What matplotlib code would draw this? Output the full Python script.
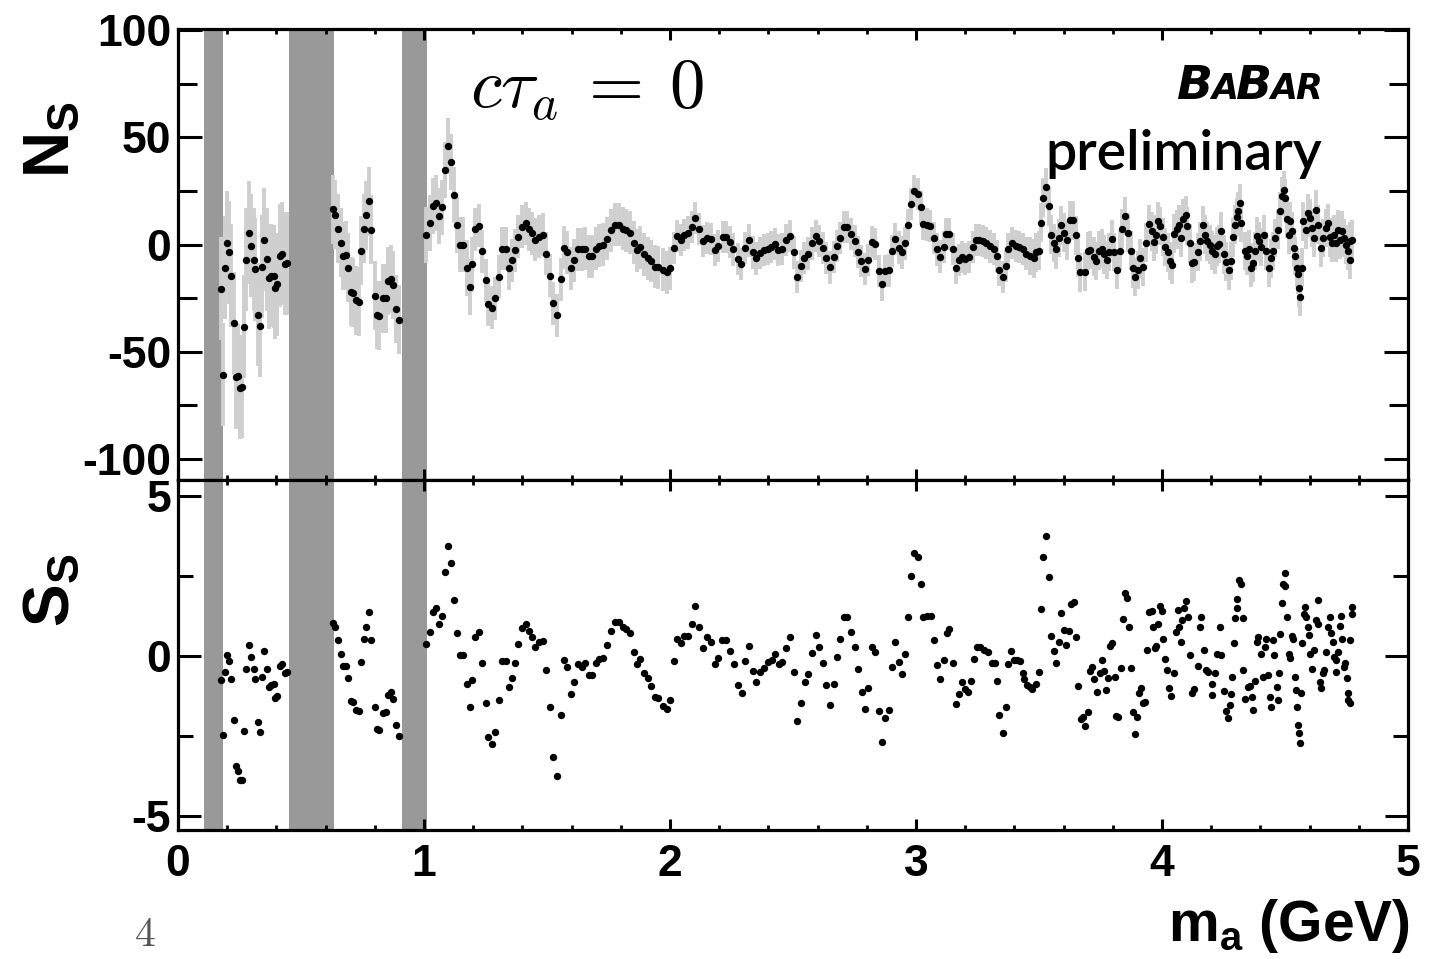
import matplotlib
matplotlib.use('Agg')
import matplotlib.pyplot as plt
import numpy as np
from matplotlib.ticker import MultipleLocator, FuncFormatter

# ---------------- data ----------------
# vetoed mass windows (GeV)
veto_lo = [0.105, 0.452, 0.912]
veto_hi = [0.182, 0.634, 1.012]

# masses common to both panels below 2.2 GeV
mass_lo = [0.176,0.184,0.193,0.200,0.208,0.216,0.227,0.234,0.244,0.252,0.260,0.269,0.278,0.288,0.298,0.307,0.314,0.324,0.333,0.343,0.351,0.360,0.369,0.380,0.389,0.394,0.403,0.415,0.424,0.433,0.443,
           0.629,0.640,0.651,0.662,0.670,0.681,0.693,0.702,0.713,0.724,0.735,0.745,0.755,0.765,0.776,0.786,0.799,0.808,0.819,0.833,0.844,0.853,0.864,0.876,0.887,0.898,
           1.010,1.024,1.037,1.048,1.060,1.073,1.085,1.098,1.109,1.121,1.135,1.146,1.159,1.173,1.185,1.197,1.208,1.222,1.237,1.250,1.262,1.275,1.289,1.303,1.317,1.333,1.344,1.357,1.371,1.384,1.398,1.414,1.428,1.441,1.452,1.466,1.482,1.495,1.512,1.525,1.540,1.555,1.569,1.583,1.598,1.610,1.625,1.642,1.655,1.669,1.682,1.699,1.712,1.728,1.745,1.761,1.776,1.791,1.807,1.823,1.837,1.853,1.867,1.878,1.894,1.909,1.921,1.939,1.953,1.970,1.986,1.999,2.016,2.029,2.043,2.056,2.073,2.089,2.102,2.119,2.135,2.151,2.167,2.184,2.197]

ns_lo = [-20.7,-60.7,-10.8,0.8,-3.7,-14.6,-36.8,-61.9,-61.1,-66.9,-66.3,-38.4,-7.0,5.6,-0.5,-7.1,-11.5,-32.7,-37.8,-10.4,2.3,-6.8,-15.5,-14.6,-14.9,-20.1,-18.6,-5.3,-4.2,-9.0,-8.7,
         16.4,13.9,7.4,0.8,-5.3,-5.0,-10.8,-22.0,-22.4,-26.0,-26.6,-2.8,7.4,13.6,20.1,7.0,-23.8,-32.8,-33.1,-25.1,-25.1,-17.0,-16.1,-18.9,-30.0,-35.1,
         4.6,9.9,18.0,19.3,13.2,17.3,34.8,45.8,38.4,23.2,9.0,0.0,0.0,-11.1,-19.7,-9.3,7.1,8.7,-3.1,-16.6,-27.9,-29.4,-25.1,-15.0,-1.9,-1.9,-11.1,-7.3,-2.6,3.6,8.4,9.9,7.1,5.3,2.3,3.7,4.5,-4.3,-14.6,-27.4,-33.0,-16.3,-1.5,-3.6,-11.1,-7.4,-2.3,-2.2,-2.0,-5.4,-5.4,-2.0,-0.6,0.0,2.8,6.7,9.3,9.3,7.4,6.7,5.6,0.8,-2.6,-1.2,-4.5,-6.5,-7.7,-10.4,-10.7,-11.8,-13.0,-11.1,-1.5,4.0,2.3,4.6,5.6,8.2,12.4,7.4,1.7,3.1,2.5,-2.6,-0.8]

ss_lo = [-0.76,-2.48,-0.5,0.04,-0.17,-0.74,-2.0,-3.45,-3.6,-3.9,-3.9,-2.35,-0.42,0.35,-0.03,-0.42,-0.73,-2.08,-2.38,-0.67,0.16,-0.42,-0.97,-0.92,-0.89,-1.31,-1.26,-0.32,-0.26,-0.55,-0.52,
         1.03,0.91,0.49,0.07,-0.32,-0.31,-0.71,-1.42,-1.46,-1.7,-1.72,-0.18,0.54,0.91,1.38,0.49,-1.6,-2.3,-2.33,-1.8,-1.75,-1.24,-1.13,-1.36,-2.15,-2.51,
         0.36,0.76,1.38,1.49,1.01,1.25,2.61,3.45,2.89,1.74,0.7,0.02,0.02,-0.89,-1.6,-0.76,0.59,0.73,-0.24,-1.47,-2.53,-2.76,-2.38,-1.39,-0.17,-0.17,-0.97,-0.68,-0.22,0.36,0.88,0.99,0.78,0.59,0.28,0.44,0.45,-0.45,-1.6,-3.18,-3.76,-1.84,-0.14,-0.36,-1.18,-0.81,-0.26,-0.34,-0.24,-0.59,-0.59,-0.22,-0.09,-0.08,0.35,0.77,1.06,1.06,0.91,0.84,0.72,0.13,-0.26,-0.09,-0.53,-0.68,-0.95,-1.3,-1.31,-1.57,-1.67,-1.37,-0.15,0.51,0.39,0.63,0.63,1.01,1.55,0.91,0.24,0.59,0.44,-0.26,-0.08]

# N_S above 2.2 GeV
mass_top_hi = [2.215,2.229,2.242,2.258,2.275,2.290,2.305,2.321,2.336,2.351,2.364,2.381,2.397,2.411,2.427,2.440,2.457,2.470,2.487,2.503,2.517,2.533,2.546,2.563,2.576,2.593,2.606,2.623,2.636,2.651,2.666,2.680,2.693,2.707,2.720,2.737,2.750,2.764,2.777,2.792,2.806,2.821,2.835,2.848,2.862,2.875,2.890,2.901,2.915,2.930,2.943,2.957,2.968,2.981,2.992,3.008,3.021,3.030,3.044,3.057,3.074,3.085,3.098,3.112,3.123,3.136,3.150,3.161,3.174,3.188,3.201,3.215,3.231,3.245,3.258,3.272,3.286,3.302,3.318,3.329,3.339,
               3.353,3.366,3.376,3.392,3.405,3.420,3.435,3.449,3.462,3.479,3.488,3.498,3.508,3.518,3.530,3.540,3.549,3.560,3.571,3.582,3.591,3.603,3.614,3.628,3.640,3.651,3.660,3.668,3.685,3.698,3.709,3.725,3.733,3.743,3.755,3.766,3.777,3.785,3.796,3.804,3.817,3.831,3.839,3.850,3.863,3.874,3.882,3.890,3.901,3.912,3.923,3.934,3.949,3.958,3.966,3.975,3.985,3.993,4.004,4.012,4.023,4.031,4.040,4.050,4.059,4.069,4.078,4.086,4.096,4.102,4.113,4.121,4.132,4.145,
               4.154,4.165,4.173,4.184,4.195,4.205,4.214,4.222,4.233,4.241,4.252,4.260,4.271,4.282,4.290,4.295,4.303,4.309,4.317,4.322,4.336,4.347,4.355,4.363,4.371,4.380,4.388,4.396,4.404,4.415,4.423,4.434,4.442,4.453,4.461,4.472,4.480,4.488,4.497,4.502,4.507,4.516,4.521,4.529,4.535,4.540,4.548,4.554,4.556,4.562,4.570,4.575,4.584,4.592,4.600,4.611,4.619,4.627,4.635,4.646,4.654,4.665,4.673,4.682,4.690,4.698,4.706,4.714,4.722,4.731,4.739,4.747,4.755,4.763,4.766,4.774]
ns_hi = [3.6,3.6,1.2,-2.3,-6.8,-9.1,-1.5,1.9,-3.7,-6.5,-3.9,-2.6,-1.9,-1.1,0.3,-2.6,-2.2,2.0,4.0,-3.7,-15.0,-10.1,-6.2,-4.2,0.5,4.0,1.7,-1.5,-6.2,-10.7,-5.7,-0.8,3.1,8.2,8.2,5.1,1.7,-3.4,-7.7,-11.6,-7.4,1.2,0.3,-12.2,-18.6,-12.4,-12.1,-3.1,2.5,-1.4,-3.7,0.5,9.0,18.9,24.8,23.5,17.3,9.6,9.3,8.7,3.1,-2.3,-5.6,-1.2,4.8,5.1,-1.9,-11.0,-7.3,-5.7,-6.8,-5.9,-1.1,2.0,2.2,1.7,0.9,-0.9,-1.9,-5.3,-11.9,
         -15.2,-10.2,-1.9,0.9,-0.6,-1.2,-2.2,-4.2,-5.3,-6.5,-3.7,-2.9,10.2,21.8,26.6,17.8,4.6,0.8,-2.2,3.1,9.0,5.6,1.9,11.3,11.3,4.3,-6.2,-13.0,-12.7,-3.1,-2.6,-5.7,-7.7,-2.8,-1.9,-4.6,-7.3,-3.4,2.5,-3.4,-11.9,-2.8,7.4,13.3,5.6,-2.8,-11.1,-15.2,-11.9,-6.5,-10.5,0.9,9.4,6.2,1.2,4.6,10.8,8.7,3.6,-1.1,-3.7,-7.7,-9.6,5.1,7.1,9.3,3.1,12.1,13.6,8.7,0.5,-8.8,-8.1,-3.4,
         1.5,9.0,4.6,1.5,0.0,-2.8,-4.6,-0.8,0.3,6.2,-4.6,-8.0,-12.1,-7.7,3.4,9.3,12.7,15.5,19.3,10.1,-3.1,-5.4,-2.0,-10.8,-8.5,-3.1,3.9,1.5,-1.2,4.6,-3.1,-10.8,-6.5,-3.1,3.1,7.0,15.5,22.4,25.5,21.7,12.1,4.6,10.8,6.2,-1.5,-5.4,-10.8,-13.9,-20.1,-24.5,-10.8,10.8,7.0,14.7,12.4,7.7,3.1,16.3,9.3,-1.5,3.1,7.7,10.1,3.4,0.8,4.6,0.8,7.0,2.3,6.5,3.1,0.0,-3.1,-7.0,1.5,2.3]

# S_S above 2.2 GeV
mass_bot_hi = [2.212,2.229,2.245,2.260,2.276,2.291,2.306,2.321,2.336,2.351,2.367,2.381,2.397,2.413,2.428,2.443,2.457,2.473,2.487,2.503,2.518,2.533,2.548,2.563,2.578,2.593,2.606,2.621,2.636,2.650,2.666,2.680,2.693,2.707,2.720,2.737,2.750,2.764,2.779,2.792,2.806,2.821,2.835,2.848,2.862,2.875,2.889,2.901,2.915,2.930,2.943,2.957,2.968,2.981,2.993,3.008,3.021,3.030,3.044,3.060,3.074,3.087,3.099,3.112,3.126,3.136,3.150,3.162,3.174,3.186,3.199,3.212,3.223,3.237,3.248,3.261,3.277,3.294,3.307,3.321,3.329,3.339,
               3.353,3.365,3.376,3.386,3.397,3.411,3.422,3.433,3.441,3.451,3.462,3.473,3.487,3.498,3.508,3.518,3.530,3.540,3.549,3.560,3.571,3.582,3.591,3.603,3.611,3.622,3.630,3.641,3.651,3.660,3.671,3.679,3.688,3.698,3.709,3.717,3.725,3.736,3.746,3.755,3.763,3.771,3.779,3.790,3.798,3.807,3.815,3.823,3.834,3.842,3.850,3.858,3.866,3.874,3.882,3.890,3.899,3.907,3.915,3.923,3.931,3.939,3.947,3.958,3.963,3.972,3.977,3.985,3.991,3.999,4.004,4.012,4.020,4.028,4.037,4.048,4.056,4.064,4.069,4.078,4.083,4.091,4.099,4.104,4.113,4.121,4.132,4.148,4.154,4.157,
               4.170,4.180,4.189,4.203,4.203,4.216,4.224,4.234,4.241,4.252,4.260,4.268,4.276,4.282,4.284,4.293,4.295,4.303,4.306,4.314,4.320,4.328,4.331,4.339,4.350,4.358,4.366,4.369,4.377,4.385,4.390,4.401,4.410,4.418,4.424,4.431,4.438,4.442,4.453,4.456,4.467,4.472,4.475,4.480,4.486,4.491,4.499,4.502,4.510,4.516,4.521,4.527,4.532,4.540,4.546,4.548,4.554,4.556,4.559,4.565,4.570,4.576,4.581,4.584,4.592,4.597,4.603,4.611,4.616,4.624,4.633,4.635,4.641,4.646,4.654,4.660,4.668,4.676,4.682,4.687,4.695,4.701,4.706,4.709,4.714,4.722,4.728,4.733,4.739,4.744,4.750,4.755,4.758,4.763,4.766,4.771,4.774]
ss_hi = [0.49,0.49,0.16,-0.26,-0.91,-1.16,-0.16,0.3,-0.49,-0.82,-0.51,-0.38,-0.2,-0.14,0.06,-0.27,-0.2,0.25,0.59,-0.5,-2.04,-1.49,-0.83,-0.56,0.09,0.64,0.26,-0.21,-0.91,-1.53,-0.87,-0.05,0.51,1.2,1.22,0.73,0.28,-0.41,-1.13,-1.67,-1.0,0.28,0.13,-1.73,-2.69,-1.94,-1.71,-0.36,0.43,-0.19,-0.58,0.07,1.21,2.51,3.22,3.08,2.26,1.22,1.25,1.25,0.49,-0.28,-0.73,-0.13,0.72,0.84,-0.24,-1.52,-1.2,-0.82,-1.04,-1.13,-0.79,-0.1,0.28,0.28,0.18,0.13,-0.21,-0.24,-0.78,-1.84,
         -2.41,-1.6,-0.26,0.15,-0.14,-0.14,-0.16,-0.55,-0.74,-0.92,-0.97,-1.04,-0.87,-0.51,1.45,3.1,3.74,2.45,0.62,0.15,-0.24,0.44,1.35,0.82,0.33,0.78,1.61,1.69,0.59,-0.93,-1.99,-1.93,-2.2,-1.77,-0.49,-0.34,-0.74,-1.13,-0.55,-0.14,-0.48,-1.07,-0.71,0.3,0.39,-0.66,-1.89,-1.91,-0.39,1.15,1.95,1.82,0.89,-0.38,-1.75,-2.45,-1.93,-1.16,-1.0,-1.49,-1.44,0.18,1.38,1.39,0.89,0.23,0.3,1.01,1.55,1.4,0.52,-0.09,-0.45,-1.01,-1.26,-0.55,0.74,1.43,0.91,0.44,1.12,1.51,1.72,1.22,0.04,-1.16,-1.05,-0.32,0.89,1.2,
         0.18,-0.45,-0.5,-0.87,-1.24,-0.55,0.05,0.89,0.02,-1.09,-1.72,-1.96,-1.54,-1.2,-0.66,0.41,1.17,1.48,1.77,2.37,2.26,1.17,-0.43,-1.35,-0.97,-0.95,-1.28,-1.69,-0.78,0.44,0.59,0.07,-0.66,0.28,0.54,-0.6,-1.28,-1.61,0.49,0.02,-0.99,-1.39,-0.55,0.67,1.64,2.26,2.58,2.18,1.22,0.07,-0.08,0.62,0.51,-0.66,-1.07,-1.6,-2.17,-2.43,-2.74,-1.16,0.41,1.3,1.53,1.22,0.89,0.64,0.05,-0.4,0.18,1.12,1.74,0.99,-0.82,-1.02,-0.55,-0.45,0.13,0.89,1.22,0.7,0.43,-0.03,-0.5,-0.14,0.13,0.94,1.25,0.54,-0.34,-0.24,-0.68,-1.16,-1.39,-1.49,0.49,1.32,1.53]

# approximate N_S uncertainty (half-height of the grey band) per mass range
err_edges = [0.0, 0.5, 0.95, 1.2, 2.0, 3.45, 5.0]
err_vals = [24.0, 16.0, 13.0, 10.0, 7.5, 9.0]

# ---------------- assemble ----------------
m_top = np.array(mass_lo + mass_top_hi)
n_top = np.array(ns_lo + ns_hi)
m_bot = np.array(mass_lo + mass_bot_hi)
s_bot = np.array(ss_lo + ss_hi)
idx = np.clip(np.digitize(m_top, err_edges) - 1, 0, len(err_vals) - 1)
n_err = np.array(err_vals)[idx]

plt.rcParams['axes.unicode_minus'] = False
plt.rcParams['mathtext.fontset'] = 'custom'
plt.rcParams['mathtext.bf'] = 'Liberation Sans:bold'
plt.rcParams['mathtext.rm'] = 'Liberation Sans:bold'
plt.rcParams['mathtext.it'] = 'Liberation Sans:bold'
plt.rcParams['font.family'] = ['Liberation Sans', 'DejaVu Sans']
plt.rcParams['font.weight'] = 'bold'

W, H = 1448, 959
fig = plt.figure(figsize=(W / 100, H / 100), dpi=100)
L, R = 178 / W, 1408 / W
ax1 = fig.add_axes([L, 1 - 480 / H, R - L, (480 - 29) / H])
ax2 = fig.add_axes([L, 1 - 830 / H, R - L, (830 - 480) / H])

band_grey = '#999999'
for ax in (ax1, ax2):
    for lo, hi in zip(veto_lo, veto_hi):
        ax.axvspan(lo, hi, color=band_grey, lw=0, zorder=1)
    ax.set_xlim(0, 5)
    for sp in ax.spines.values():
        sp.set_linewidth(2.3)
        sp.set_zorder(5)
    ax.xaxis.set_major_locator(MultipleLocator(1))
    ax.xaxis.set_minor_locator(MultipleLocator(0.2))
    ax.tick_params(axis='x', which='major', direction='in', top=True, bottom=True, length=8, width=2.2)
    ax.tick_params(axis='x', which='minor', direction='in', top=True, bottom=True, length=3.8, width=2.0)

# top panel
ax1.vlines(m_top, n_top - n_err, n_top + n_err, colors='#cfcfcf', lw=2.8, zorder=2)
ax1.plot(m_top, n_top, 'o', color='k', ms=5.3, mew=0, zorder=3)
ax1.set_ylim(-109.8, 100.5)
ax1.yaxis.set_major_locator(MultipleLocator(50))
ax1.yaxis.set_minor_locator(MultipleLocator(25))
ax1.tick_params(axis='y', which='major', direction='in', left=True, right=True, length=17, width=2.2, labelsize=32, pad=5)
ax1.tick_params(axis='y', which='minor', direction='in', left=True, right=True, length=13.5, width=2.2)
ax1.yaxis.set_major_formatter(FuncFormatter(lambda v, p: '%d' % v))
ax1.tick_params(axis='x', labelbottom=False)

# bottom panel
ax2.plot(m_bot, s_bot, 'o', color='k', ms=5.3, mew=0, zorder=3)
ax2.set_ylim(-5.45, 5.5)
ax2.yaxis.set_major_locator(MultipleLocator(5))
ax2.yaxis.set_minor_locator(MultipleLocator(2.5))
ax2.tick_params(axis='y', which='major', direction='in', left=True, right=True, length=16.5, width=2.2, labelsize=32, pad=5)
ax2.tick_params(axis='y', which='minor', direction='in', left=True, right=True, length=11, width=2.2)
ax2.yaxis.set_major_formatter(FuncFormatter(lambda v, p: '%d' % v))
ax2.tick_params(axis='x', which='major', labelsize=32, pad=10)
ax2.xaxis.set_major_formatter(FuncFormatter(lambda v, p: '%d' % v))

# axis titles
fig.text(52 / W, 1 - 140 / H, r'$\mathbf{N_{S}}$', rotation=90, ha='center', va='center', fontsize=46)
fig.text(52 / W, 1 - 590 / H, r'$\mathbf{S_{S}}$', rotation=90, ha='center', va='center', fontsize=46)
fig.text(1410 / W, 1 - 941 / H, r'$\mathbf{m_{a}}$ (GeV)', ha='right', va='baseline', fontsize=41, fontweight='bold')

# annotations
fig.text(470 / W, 1 - 108 / H, r'$c\tau_a\:=\:0$', fontsize=51,
         math_fontfamily='cm', ha='left', va='baseline')

fig.canvas.draw()
rend = fig.canvas.get_renderer()
logo_font = dict(family=['DejaVu Sans'], weight='bold', style='oblique', color='k')
xr = 1322.0
ybase = 1 - 99 / H
for ch, sz in [('R', 25), ('A', 25), ('B', 34), ('A', 25), ('B', 34)]:
    t = fig.text(xr / W, ybase, ch, fontsize=sz, ha='right', va='baseline', **logo_font)
    xr = t.get_window_extent(rend).x0 + 2

fig.text(1322 / W, 1 - 170 / H, 'preliminary', fontsize=40, ha='right', va='baseline',
         family=['Lato', 'DejaVu Sans'], weight=600, color='k')

fig.text(145 / W, 1 - 946 / H, r'$4$', fontsize=30, math_fontfamily='cm', color='#555555',
         ha='center', va='baseline')

fig.savefig('out.png', dpi=100)
